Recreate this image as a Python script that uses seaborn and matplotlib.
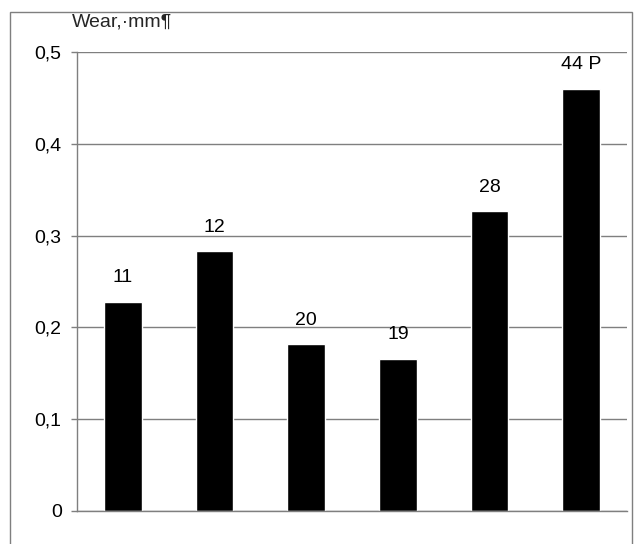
import matplotlib

matplotlib.use("Agg")
import matplotlib.pyplot as plt
import pandas as pd
import seaborn as sns
from matplotlib.patches import Rectangle
from matplotlib.ticker import FuncFormatter

# data
samples = ["11", "12", "20", "19", "28", "44 P"]
wear_mm = [0.228, 0.283, 0.182, 0.166, 0.327, 0.460]
y_ticks = [0, 0.1, 0.2, 0.3, 0.4, 0.5]

sns.set_style("white")
plt.rcParams["font.family"] = ["Liberation Sans", "DejaVu Sans"]

d = pd.DataFrame({"sample": samples, "wear": wear_mm})

fig = plt.figure(figsize=(6.35, 5.44), dpi=100)
ax = fig.add_axes([0.1213, 0.0607, 0.8661, 0.8437])

sns.barplot(data=d, x="sample", y="wear", order=samples, color="black",
            width=0.41, saturation=1, ax=ax)

for i, (lab, v) in enumerate(zip(samples, wear_mm)):
    ax.annotate(lab, (i, v), xytext=(0, 11), textcoords="offset points",
                ha="center", va="bottom", fontsize=14, color="black")

ax.set_ylim(0, 0.5)
ax.set_yticks(y_ticks)
ax.yaxis.set_major_formatter(FuncFormatter(lambda v, _: "0" if v == 0 else f"{v:.1f}".replace(".", ",")))
ax.set_xticks([])
ax.set_xlabel("")
ax.set_ylabel("")
ax.grid(True, axis="y", color="#7f7f7f", linewidth=1)
ax.set_axisbelow(True)
for s in ("top", "right"):
    ax.spines[s].set_visible(False)
for s in ("left", "bottom"):
    ax.spines[s].set_color("#7f7f7f")
    ax.spines[s].set_linewidth(1)
ax.tick_params(axis="y", left=True, length=4, width=1, color="#7f7f7f",
               pad=7, labelsize=14, labelcolor="black")

fig.text(72 / 635, 1 - 22 / 544, "Wear,\u00b7mm\u00b6", fontsize=14,
         ha="left", va="center")

# outer frame of the chart object
fig.patches.append(Rectangle((10 / 635, -0.05), 622 / 635, 1.05 - 12 / 544,
                             transform=fig.transFigure, fill=False,
                             edgecolor="#7f7f7f", linewidth=1))

fig.savefig("out.png", dpi=100)
